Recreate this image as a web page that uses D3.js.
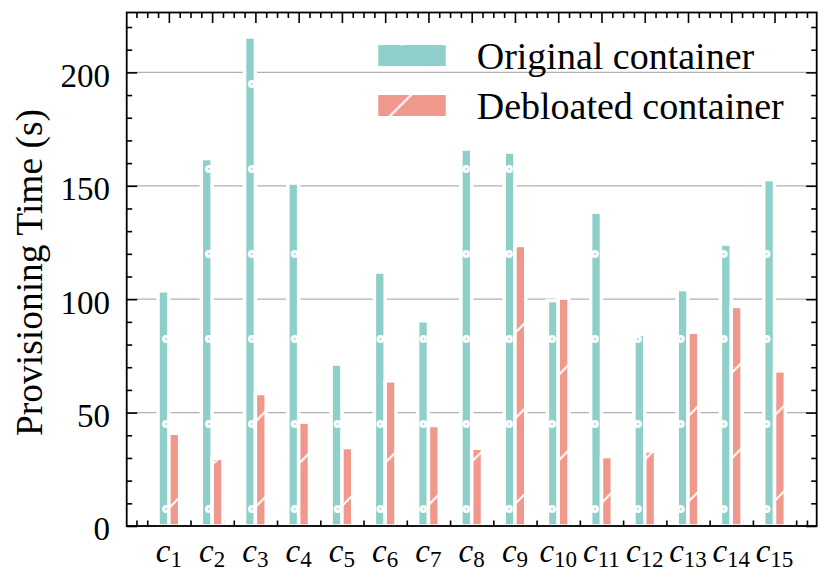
<!DOCTYPE html>
<html><head><meta charset="utf-8">
<script src="https://cdn.jsdelivr.net/npm/d3@7"></script>
<style>
html,body{margin:0;padding:0;background:#fff;}
svg{display:block;font-family:"Liberation Serif","Times New Roman",serif;}
</style></head><body>
<svg id="chart" width="830" height="583"></svg>
<script>
// ---- data ----
const categories = ["1","2","3","4","5","6","7","8","9","10","11","12","13","14","15"];
const original   = [103.7,162.0,215.6,151.2,71.4,112.0,90.5,166.2,164.9,99.4,138.4,84.6,104.2,124.3,152.7];
const debloated  = [40.9,29.9,58.4,45.8,34.6,64.0,44.3,34.3,123.7,100.5,30.6,33.1,85.5,96.8,68.4];
const seriesNames = ["Original container","Debloated container"];
const yMajorTicks = [0,50,100,150,200];
const yLabel = "Provisioning Time (s)";

// ---- style ----
const teal = "#8ECFC9", pink = "#F0988C";
const L = 126.7, R = 816.7, T = 12.5, B = 526;
const barW = 0.25;

const svg = d3.select("#chart");
const x = d3.scaleLinear().domain([0.025, 15.975]).range([L, R]);
const y = d3.scaleLinear().domain([0, 226.4]).range([B, T]);

// hatch patterns (figure-anchored like matplotlib)
const defs = svg.append("defs");
const CW = 42.9, CH = 85;
const pc = defs.append("pattern").attr("id","hatchO").attr("patternUnits","userSpaceOnUse")
  .attr("x",166).attr("y",84).attr("width",CW).attr("height",CH);
pc.append("rect").attr("width",CW).attr("height",CH).attr("fill",teal);
[[0,0],[CW,0],[0,CH],[CW,CH],[CW/2,CH/2]].forEach(([cx,cy]) =>
  pc.append("circle").attr("cx",cx).attr("cy",cy).attr("r",2.4)
    .attr("fill","none").attr("stroke","#fff").attr("stroke-width",3.0));
const P = 85.5;
const ps = defs.append("pattern").attr("id","hatchS").attr("patternUnits","userSpaceOnUse")
  .attr("x", 506 - 5*P).attr("y",0).attr("width",P).attr("height",P);
ps.append("rect").attr("width",P).attr("height",P).attr("fill",pink);
ps.append("path")
  .attr("d",`M-6,6L6,-6M-6,${P+6}L${P+6},-6M${P-6},${P+6}L${P+6},${P-6}`)
  .attr("stroke","#fff").attr("stroke-width",2.0).attr("fill","none");

// grid
svg.append("g").selectAll("line").data(yMajorTicks).join("line")
  .attr("x1",L).attr("x2",R).attr("y1",d=>y(d)).attr("y2",d=>y(d))
  .attr("stroke","#b0b0b0").attr("stroke-width",1.3);

// axes ticks (below bars)
function styleAxis(g){
  g.select(".domain").remove();
  g.selectAll(".tick line").attr("stroke","#000").attr("stroke-width",1.6);
}
const xMajor = d3.range(1,16);
const xMinor = d3.range(0.25,15.9,0.25).filter(v => Math.abs(v-Math.round(v))>1e-6);
const yMinor = d3.range(0,227,10).filter(v => v%50!==0);

svg.append("g").attr("transform",`translate(0,${B})`)
  .call(d3.axisBottom(x).tickValues(xMajor).tickSize(-10.5).tickFormat("")).call(styleAxis);
svg.append("g").attr("transform",`translate(0,${B})`)
  .call(d3.axisBottom(x).tickValues(xMinor).tickSize(-5.5).tickFormat("")).call(styleAxis);
svg.append("g").attr("transform",`translate(0,${T})`)
  .call(d3.axisTop(x).tickValues(xMajor).tickSize(-10.5).tickFormat("")).call(styleAxis);
svg.append("g").attr("transform",`translate(0,${T})`)
  .call(d3.axisTop(x).tickValues(xMinor).tickSize(-5.5).tickFormat("")).call(styleAxis);

const yAx = svg.append("g").attr("transform",`translate(${L},0)`)
  .call(d3.axisLeft(y).tickValues(yMajorTicks).tickSize(-10.5).tickPadding(16.7)).call(styleAxis);
yAx.selectAll("text").attr("font-size",33).attr("font-family","Liberation Serif, serif")
  .attr("fill","#000").attr("dy","0.42em");
yAx.attr("font-size",null).attr("font-family",null);
svg.append("g").attr("transform",`translate(${L},0)`)
  .call(d3.axisLeft(y).tickValues(yMinor).tickSize(-5.5).tickFormat("")).call(styleAxis);
svg.append("g").attr("transform",`translate(${R},0)`)
  .call(d3.axisRight(y).tickValues(yMajorTicks).tickSize(-10.5).tickFormat("")).call(styleAxis);
svg.append("g").attr("transform",`translate(${R},0)`)
  .call(d3.axisRight(y).tickValues(yMinor).tickSize(-5.5).tickFormat("")).call(styleAxis);

// bars
const idx = d3.range(categories.length);
const bars = svg.append("g");
bars.selectAll("rect.orig").data(idx).join("rect").attr("class","orig")
  .attr("x", i => x(i+1-barW)).attr("width", i => x(i+1)-x(i+1-barW))
  .attr("y", i => y(original[i])).attr("height", i => y(0)-y(original[i]))
  .attr("fill","url(#hatchO)").attr("stroke","#fff").attr("stroke-width",3.5);
bars.selectAll("rect.deb").data(idx).join("rect").attr("class","deb")
  .attr("x", i => x(i+1)).attr("width", i => x(i+1+barW)-x(i+1))
  .attr("y", i => y(debloated[i])).attr("height", i => y(0)-y(debloated[i]))
  .attr("fill","url(#hatchS)").attr("stroke","#fff").attr("stroke-width",3.5);

// spines
svg.append("rect").attr("x",L).attr("y",T).attr("width",R-L).attr("height",B-T)
  .attr("fill","none").attr("stroke","#000").attr("stroke-width",1.8);

// x labels
const xl = svg.append("g").selectAll("text").data(idx).join("text")
  .attr("x", i => x(i+1)).attr("y", 561.7).attr("text-anchor","middle").attr("fill","#000");
xl.append("tspan").attr("font-style","italic").attr("font-size",33).text("c");
xl.append("tspan").attr("font-size",23).attr("dy",5.6).text(i => categories[i]);

// y label
svg.append("text").attr("transform","translate(41.7,272.5) rotate(-90)")
  .attr("text-anchor","middle").attr("font-size",37.5).attr("fill","#000").text(yLabel);

// legend
const leg = svg.append("g");
[["url(#hatchO)",43.3,69.3],["url(#hatchS)",93.3,118.5]].forEach(([f,ry,ty],k) => {
  leg.append("rect").attr("x",376.5).attr("y",ry).attr("width",71).attr("height",24.5)
    .attr("fill",f).attr("stroke","#fff").attr("stroke-width",3.5);
  leg.append("text").attr("x",476.7).attr("y",ty).attr("font-size",38).attr("fill","#000").text(seriesNames[k]);
});
</script>
</body></html>
